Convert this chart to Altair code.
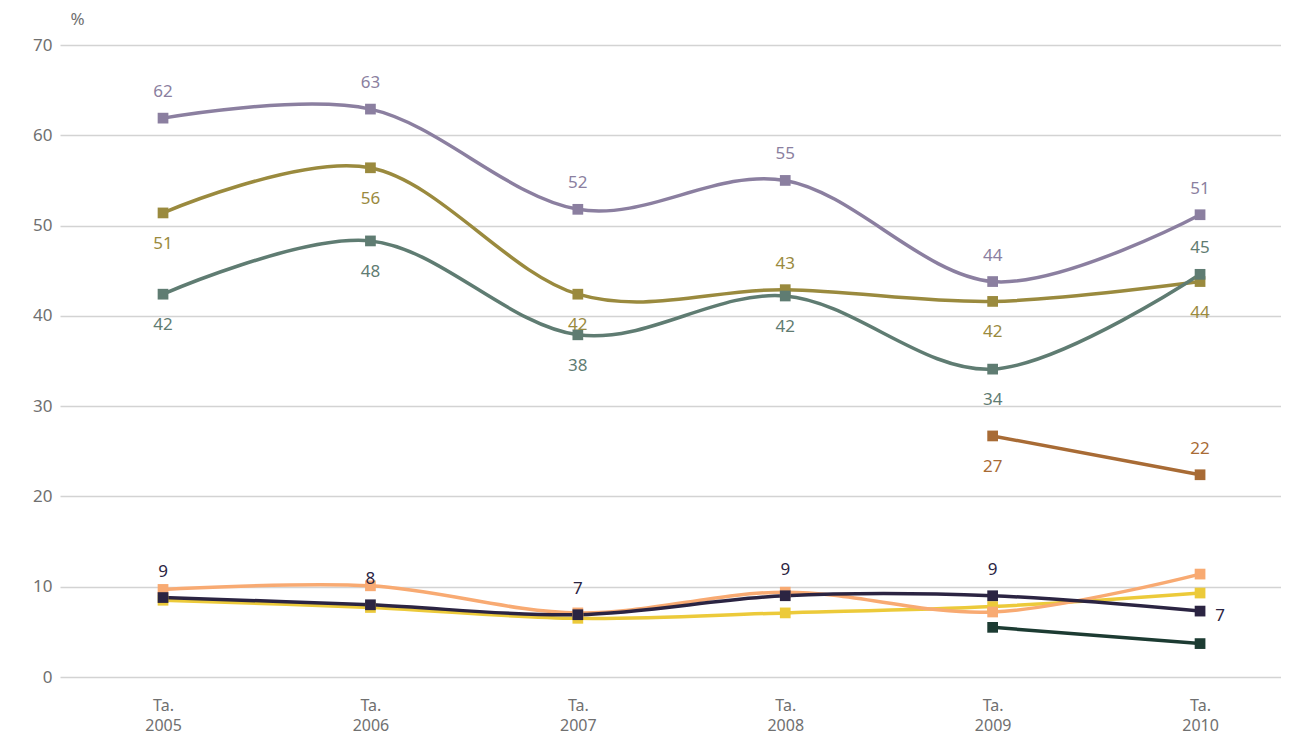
import altair as alt
import pandas as pd

years = ["Ta. 2005", "Ta. 2006", "Ta. 2007", "Ta. 2008", "Ta. 2009", "Ta. 2010"]

series_names = ["S1", "S2", "S3", "S4", "S5", "S6", "S7", "S8"]
series_colors = ["#8b7fa0", "#9a8a3e", "#5f7c72", "#a86b35", "#ecca3a", "#f8aa72", "#2b2442", "#1c3b32"]

s1 = [61.9, 62.9, 51.8, 55.0, 43.8, 51.2]
s2 = [51.4, 56.4, 42.4, 42.9, 41.6, 43.8]
s3 = [42.4, 48.3, 37.9, 42.2, 34.1, 44.6]
s4 = [None, None, None, None, 26.7, 22.4]
s5 = [8.5, 7.7, 6.5, 7.1, 7.8, 9.3]
s6 = [9.7, 10.1, 7.1, 9.4, 7.2, 11.4]
s7 = [8.8, 8.0, 6.9, 9.0, 9.0, 7.3]
s8 = [None, None, None, None, 5.5, 3.7]
all_series = [s1, s2, s3, s4, s5, s6, s7, s8]

# label positions per series ("a" above, "b" below, "r" right, None no label)
pos1 = ["a", "a", "a", "a", "a", "a"]
pos2 = ["b", "b", "b", "a", "b", "b"]
pos3 = ["b", "b", "b", "b", "b", "a"]
pos4 = [None, None, None, None, "b", "a"]
pos5 = [None] * 6
pos6 = [None] * 6
pos7 = ["a", "a", "a", "a", "a", "r"]
pos8 = [None] * 6
all_pos = [pos1, pos2, pos3, pos4, pos5, pos6, pos7, pos8]

rows = []
for order, (name, vals, poss) in enumerate(zip(series_names, all_series, all_pos)):
    for yr, v, p in zip(years, vals, poss):
        if v is not None:
            rows.append({"series": name, "order": order, "year": yr, "value": v, "pos": p if p else "none"})
df = pd.DataFrame(rows)

font = "Noto Sans"
fs = 17
axis_color = "#707070"
color_scale = alt.Scale(domain=series_names, range=series_colors)

x_enc = alt.X(
    "year:N",
    sort=years,
    scale=alt.Scale(type="point", padding=0.4435, align=0.56),
    axis=alt.Axis(
        title=None,
        labelExpr="split(datum.label, ' ')",
        ticks=False,
        domain=False,
        grid=False,
        labelPadding=20,
        labelFontSize=16,
        labelColor=axis_color,
        labelAngle=0,
        labelLineHeight=20,
        labelFont=font,
    ),
)
y_enc = alt.Y(
    "value:Q",
    scale=alt.Scale(domain=[0, 70], nice=False),
    axis=alt.Axis(
        values=list(range(0, 71, 10)),
        title="%",
        titleAngle=0,
        titleX=17,
        titleY=-26,
        titleAlign="center",
        titleBaseline="middle",
        titleFontSize=fs,
        titleFontWeight="normal",
        titleColor=axis_color,
        titleFont=font,
        grid=True,
        gridColor="#d3d3d3",
        gridWidth=1.5,
        domain=False,
        ticks=False,
        labelPadding=8,
        labelFontSize=fs,
        labelColor=axis_color,
        labelFont=font,
    ),
)
color_enc = alt.Color("series:N", scale=color_scale, legend=None)

base = alt.Chart(df)

lines = base.mark_line(interpolate="cardinal", strokeWidth=3.5).encode(
    x=x_enc, y=y_enc, color=color_enc, order=alt.Order("order:Q")
)
points = base.mark_point(shape="square", filled=True, size=115, opacity=1).encode(
    x=x_enc, y=y_enc, color=color_enc, order=alt.Order("order:Q")
)

def labels(pos, **kw):
    return base.transform_filter(alt.datum.pos == pos).mark_text(
        font=font, fontSize=fs, baseline="middle", **kw
    ).encode(
        x=x_enc, y=y_enc, color=color_enc,
        text=alt.Text("value:Q", format=".0f"),
    )

above = labels("a", dy=-26)
below = labels("b", dy=31)
right = labels("r", dx=20, dy=5)

chart = alt.layer(lines, points, above, below, right).properties(
    width=1221,
    height=632,
    autosize=alt.AutoSizeParams(type="none"),
    padding={"left": 52, "top": 37, "right": 0, "bottom": 64},
).configure_view(stroke=None)

chart.save("out.html", embed_options={"renderer": "svg", "actions": False})
